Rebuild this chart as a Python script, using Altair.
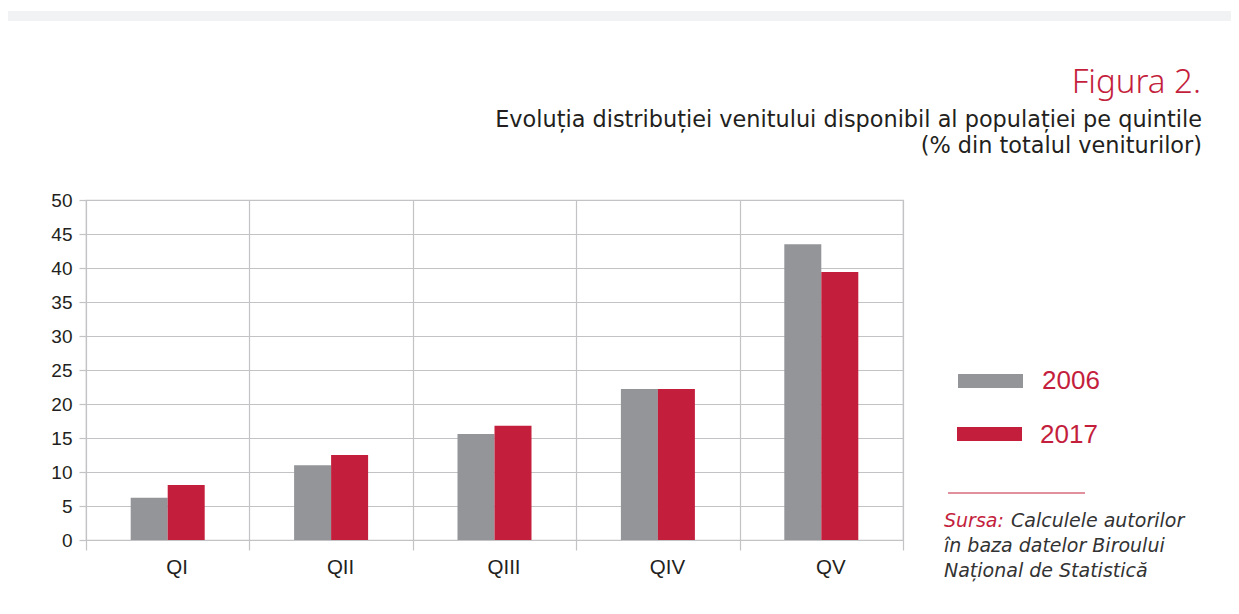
import altair as alt
import pandas as pd

quintiles = ["QI", "QII", "QIII", "QIV", "QV"]
years = ["2006", "2017"]
values_2006 = [6.2, 11.0, 15.6, 22.2, 43.5]
values_2017 = [8.1, 12.5, 16.8, 22.2, 39.4]

title_main = "Figura 2."
title_line1 = "Evoluția distribuției venitului disponibil al populației pe quintile"
title_line2 = "(% din totalul veniturilor)"
source_label = "Sursa:"
source_lines = ["Calculele autorilor", "în baza datelor Biroului", "Național de Statistică"]

GRAY = "#939598"
RED = "#c41e3d"
GRID = "#c3c3c5"
TEXT = "#231f20"

rows = []
for q, a, b in zip(quintiles, values_2006, values_2017):
    rows.append({"q": q, "year": years[0], "v": a})
    rows.append({"q": q, "year": years[1], "v": b})
df = pd.DataFrame(rows)

bars = alt.Chart(df).mark_bar().encode(
    x=alt.X("q:N", sort=quintiles, title=None,
            scale=alt.Scale(paddingInner=0, paddingOuter=0),
            axis=alt.Axis(tickBand="extent", grid=True, gridColor=GRID, gridWidth=1.2,
                          domain=False, ticks=True, tickSize=10, tickColor=GRID, tickWidth=1.2,
                          labelAngle=0, labelFontSize=20.5, labelFont="Liberation Sans",
                          labelColor=TEXT, labelPadding=7, labelOffset=9)),
    xOffset=alt.XOffset("year:N",
                        scale=alt.Scale(domain=["_l"] + years + ["_r"],
                                        paddingInner=0, paddingOuter=0.208)),
    y=alt.Y("v:Q", title=None, scale=alt.Scale(domain=[0, 50], nice=False),
            axis=alt.Axis(values=list(range(0, 51, 5)), grid=True, gridColor=GRID, gridWidth=1.2,
                          domain=False, ticks=True, tickSize=7, tickColor=GRID, tickWidth=1.2,
                          labelFontSize=19, labelFont="Liberation Sans", labelColor=TEXT,
                          labelPadding=7)),
    color=alt.Color("year:N", scale=alt.Scale(domain=years, range=[GRAY, RED]), legend=None),
)

one = pd.DataFrame({"d": [0]})

def txt(text, x, y, size, color, font, align="left", weight="normal", style="normal"):
    return alt.Chart(one).mark_text(
        text=text, align=align, baseline="alphabetic", fontSize=size, color=color,
        font=font, fontWeight=weight, fontStyle=style
    ).encode(x=alt.value(x), y=alt.value(y))

def rect(x, x2, y, y2, color):
    return alt.Chart(one).mark_rect(color=color).encode(
        x=alt.value(x), x2=alt.value(x2), y=alt.value(y), y2=alt.value(y2))

strip = rect(-78, 1145, -189, -179, "#f1f2f4")

t_main = txt(title_main, 1115, -107, 33, RED, "Noto Sans", align="right", weight=300)
t_l1 = txt(title_line1, 1116, -73, 22.4, TEXT, "DejaVu Sans", align="right")
t_l2 = txt(title_line2, 1116, -47, 22.4, TEXT, "DejaVu Sans", align="right")

leg_r1 = rect(872, 937, 174, 188, GRAY)
leg_r2 = rect(871, 936, 227, 241, RED)
leg_t1 = txt(years[0], 956, 189, 26, RED, "Liberation Sans")
leg_t2 = txt(years[1], 954, 243, 26, RED, "Liberation Sans")

sep = alt.Chart(one).mark_rule(color=RED, strokeWidth=1).encode(
    x=alt.value(862), x2=alt.value(999), y=alt.value(293))

SRC_FONT = "DejaVu Sans"
SRC_SIZE = 19
s0 = txt(source_label, 858, 327, SRC_SIZE, RED, SRC_FONT, style="italic")
s1 = txt(source_lines[0], 925, 327, SRC_SIZE, "#333333", SRC_FONT, style="italic")
s2 = txt(source_lines[1], 858, 352, SRC_SIZE, "#333333", SRC_FONT, style="italic")
s3 = txt(source_lines[2], 858, 377, SRC_SIZE, "#333333", SRC_FONT, style="italic")

chart = alt.layer(
    strip, bars, t_main, t_l1, t_l2, leg_r1, leg_r2, leg_t1, leg_t2, sep, s0, s1, s2, s3
).properties(
    width=817, height=340,
    autosize=alt.AutoSizeParams(type="none"),
    padding={"left": 78, "top": 192, "right": 328, "bottom": 64},
    background="white",
).configure_view(stroke=GRID, strokeWidth=1.2)

chart.save("out.html", embed_options={"renderer": "svg", "actions": False})
